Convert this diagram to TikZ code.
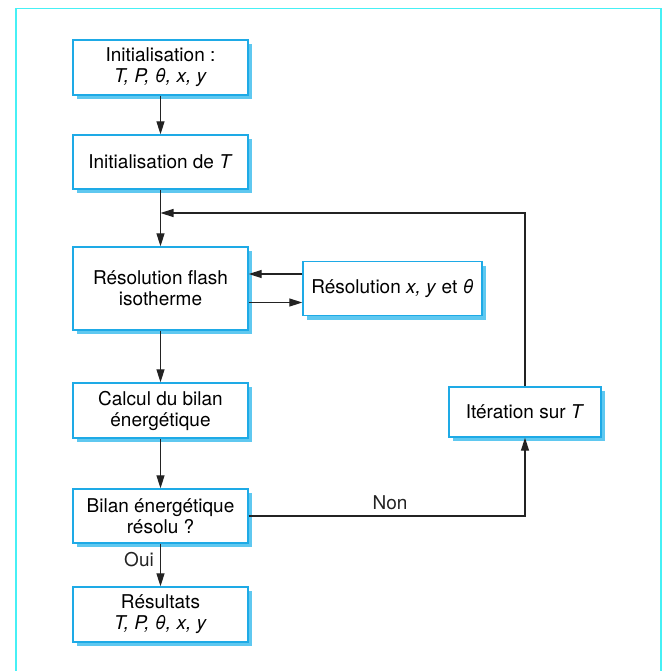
\documentclass[tikz,border=0pt]{standalone}
\usepackage{fontspec}
\setmainfont{TeX Gyre Heros}
\usetikzlibrary{arrows.meta,shadows}
\definecolor{framecyan}{RGB}{70,240,245}
\definecolor{boxblue}{RGB}{30,170,230}
\definecolor{shadowblue}{RGB}{95,200,240}
\definecolor{linegray}{RGB}{35,35,35}
\begin{document}
\begin{tikzpicture}[x=0.5pt,y=-0.5pt,
  box/.style={draw=boxblue, line width=0.7pt, fill=white, align=center, inner sep=0pt,
    minimum width=87.5pt, font=\fontsize{9.5}{10.5}\selectfont,
    drop shadow={shadow xshift=2pt, shadow yshift=-2pt, fill=shadowblue, opacity=1, draw=none}},
  conn/.style={draw=linegray, line width=0.65pt},
  arr/.style={conn, -{Triangle[length=6.5pt,width=4pt]}},
  lbl/.style={font=\fontsize{9.5}{10.5}\selectfont, inner sep=0pt, text=linegray}]
\useasboundingbox (0,0) rectangle (666,671);
\draw[framecyan, line width=0.8pt] (16,671) -- (16,8.5) -- (661,8.5) -- (661,671);

\node[box, minimum height=27.5pt] (b1) at (160.5,67.5) {Initialisation :\\\textit{T, P, θ, x, y}};
\node[box, minimum height=27pt] (b2) at (160.5,162) {Initialisation de \textit{T}};
\node[box, minimum height=41.5pt] (b3) at (160.5,288.5) {Résolution flash\\isotherme};
\node[box, minimum height=27pt, minimum width=89.5pt] (b4) at (392.5,288.5) {Résolution \textit{x, y} et \textit{θ}};
\node[box, minimum height=27.5pt] (b5) at (160.5,410.5) {Calcul du bilan\\énergétique};
\node[box, minimum height=27pt] (b6) at (160.5,516) {Bilan énergétique\\résolu ?};
\node[box, minimum height=27.5pt] (b7) at (160.5,614.5) {Résultats\\\textit{T, P, θ, x, y}};
\node[box, minimum height=25pt, minimum width=76pt] (b8) at (525,412) {Itération sur \textit{T}};

\coordinate (fb) at (525,213);

\draw[arr] (b1.south) -- (b2.north);
\draw[arr] (b2.south) -- (b3.north);
\draw[arr] ([yshift=7.25pt]b4.west) -- ([yshift=7.25pt]b3.east);
\draw[arr] ([yshift=-7pt]b3.east) -- ([yshift=-7pt]b4.west);
\draw[arr] (b3.south) -- (b5.north);
\draw[arr] (b5.south) -- (b6.north);
\draw[arr] (b6.south) -- (b7.north);
\draw[arr] (b6.east) -| (b8.south);
\draw[arr] (b8.north) -- (fb) -- (b2.south |- fb);

\node[lbl] (non) at (390,503) {Non};
\node[lbl] (oui) at (139,560) {Oui};
\end{tikzpicture}
\end{document}
